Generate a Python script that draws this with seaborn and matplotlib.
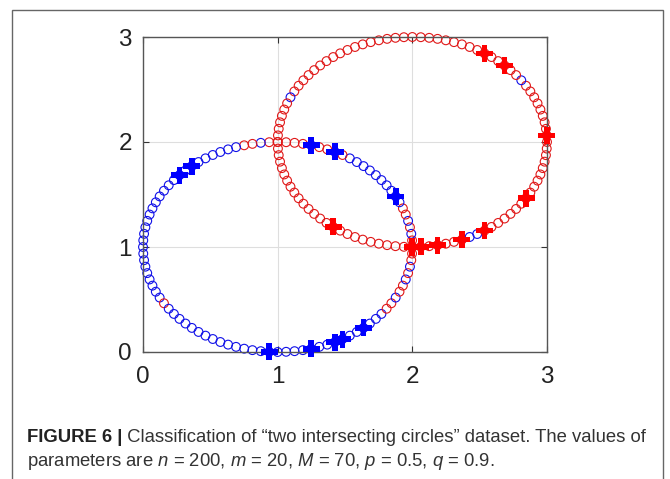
import numpy as np
import pandas as pd
import matplotlib
matplotlib.use("Agg")
import matplotlib.pyplot as plt
from matplotlib.patches import Rectangle
import seaborn as sns

# ---------------- data ----------------
# angular position (degrees) of the 100 sample points on each circle
point_angles_deg = [
    0.0, 3.6, 7.2, 10.8, 14.4, 18.0, 21.6, 25.2, 28.8, 32.4,
    36.0, 39.6, 43.2, 46.8, 50.4, 54.0, 57.6, 61.2, 64.8, 68.4,
    72.0, 75.6, 79.2, 82.8, 86.4, 90.0, 93.6, 97.2, 100.8, 104.4,
    108.0, 111.6, 115.2, 118.8, 122.4, 126.0, 129.6, 133.2, 136.8, 140.4,
    144.0, 147.6, 151.2, 154.8, 158.4, 162.0, 165.6, 169.2, 172.8, 176.4,
    180.0, 183.6, 187.2, 190.8, 194.4, 198.0, 201.6, 205.2, 208.8, 212.4,
    216.0, 219.6, 223.2, 226.8, 230.4, 234.0, 237.6, 241.2, 244.8, 248.4,
    252.0, 255.6, 259.2, 262.8, 266.4, 270.0, 273.6, 277.2, 280.8, 284.4,
    288.0, 291.6, 295.2, 298.8, 302.4, 306.0, 309.6, 313.2, 316.8, 320.4,
    324.0, 327.6, 331.2, 334.8, 338.4, 342.0, 345.6, 349.2, 352.8, 356.4,
]
circle_a_center = (1.0, 1.0)   # lower-left circle (true class "blue")
circle_b_center = (2.0, 2.0)   # upper-right circle (true class "red")
circle_radius = 1.0

# predicted class of each point (b = blue, r = red), in angle order
circle_a_pred = list(
    "rrbrbrrbbb" "bbbbbbbrbr" "rbrrrrrbrr" "bbbbbbbbbb" "bbbbbbbbbb"
    "bbbbbbbbbr" "bbbbbbbbbb" "bbbbbbbbbb" "bbbbbbbbbb" "rrbrrbrbrr"
)
circle_b_pred = list(
    "rrrrrrrrrr" "brrrrrrrrr" "rrrrrrrrrr" "rrrrrrrrrr" "rrrbrrrrrr"
    "rrrrrrrrrr" "rrrrrrrrrr" "rrrrrrrrrr" "rrbbrrrrrr" "rrrrrrrrrr"
)
# labelled points (indices into the sample points)
labelled_a_idx = [8, 18, 21, 36, 38, 74, 79, 82, 83, 86]
labelled_b_idx = [1, 13, 16, 65, 75, 76, 78, 81, 84, 91]

x_ticks = [0, 1, 2, 3]
y_ticks = [0, 1, 2, 3]
caption_bold = "FIGURE 6 |"
caption_line1 = " Classification of \u201ctwo intersecting circles\u201d dataset. The values of"
caption_line2 = r"parameters are $n$ = 200, $m$ = 20, $M$ = 70, $p$ = 0.5, $q$ = 0.9."

palette_open = {"b": "#1010e8", "r": "#e01818"}
palette_lab = {"b": "#0000ff", "r": "#ff0000"}

# ---------------- build tables ----------------
theta = np.deg2rad(np.array(point_angles_deg))
df_a = pd.DataFrame({
    "x": circle_a_center[0] + circle_radius * np.cos(theta),
    "y": circle_a_center[1] + circle_radius * np.sin(theta),
    "pred": circle_a_pred,
})
df_b = pd.DataFrame({
    "x": circle_b_center[0] + circle_radius * np.cos(theta),
    "y": circle_b_center[1] + circle_radius * np.sin(theta),
    "pred": circle_b_pred,
})
df_lab = pd.concat([
    df_a.iloc[labelled_a_idx].assign(cls="b"),
    df_b.iloc[labelled_b_idx].assign(cls="r"),
])

# ---------------- style ----------------
sns.set_theme(style="white")
plt.rcParams["font.family"] = ["Liberation Sans", "DejaVu Sans"]
plt.rcParams["mathtext.fontset"] = "custom"
plt.rcParams["mathtext.rm"] = "Liberation Sans"
plt.rcParams["mathtext.it"] = "Liberation Sans:italic"
plt.rcParams["mathtext.bf"] = "Liberation Sans:bold"

fig = plt.figure(figsize=(6.7, 4.79), dpi=100)
W, H = 670, 479
ax = fig.add_axes([143 / W, 1 - 352 / H, (547 - 143) / W, (352 - 37) / H])
ax.set_facecolor("white")

def open_circles(df):
    sns.scatterplot(data=df, x="x", y="y", hue="pred", palette=palette_open,
                    marker="o", s=40, linewidth=0.8, legend=False, ax=ax,
                    clip_on=False, zorder=2)
    coll = ax.collections[-1]
    fc = coll.get_facecolors()
    coll.set_edgecolors(fc)
    coll.set_facecolors("none")

open_circles(df_a)
open_circles(df_b)

sns.scatterplot(data=df_lab, x="x", y="y", hue="cls", palette=palette_lab,
                marker="P", s=150, linewidth=0, legend=False, ax=ax,
                clip_on=False, zorder=3)

ax.set_xlim(0, 3)
ax.set_ylim(0, 3)
ax.set_xticks(x_ticks)
ax.set_yticks(y_ticks)
ax.set_xticklabels([str(t) for t in x_ticks])
ax.set_yticklabels([str(t) for t in y_ticks])
ax.set_xlabel("")
ax.set_ylabel("")
ax.grid(True, color="#dedede", linewidth=0.8)
ax.set_axisbelow(True)
for s in ax.spines.values():
    s.set_visible(True)
    s.set_color("#555555")
    s.set_linewidth(1.0)
ax.tick_params(axis="both", direction="in", length=4, width=0.8,
               color="#333333", labelsize=17.5, labelcolor="#222222",
               top=True, right=True, bottom=True, left=True)
ax.tick_params(axis="x", pad=10)
ax.tick_params(axis="y", pad=8)

# outer frame
fig.add_artist(Rectangle((12 / W, -0.05), (663 - 12) / W, 1.05 - 10 / H,
                         transform=fig.transFigure, fill=False,
                         edgecolor="#666666", linewidth=1.0))

# caption
cap_fs = 13.3
t1 = fig.text(27 / W, 1 - 437 / H, caption_bold, fontsize=cap_fs,
              fontweight="bold", color="#222222", va="center", ha="left")
fig.canvas.draw()
bb = t1.get_window_extent(renderer=fig.canvas.get_renderer())
fig.text(bb.x1 / W, 1 - 437 / H, caption_line1, fontsize=cap_fs,
         color="#333333", va="center", ha="left")
fig.text(27 / W, 1 - 462 / H, caption_line2, fontsize=cap_fs,
         color="#333333", va="center", ha="left")

fig.savefig("out.png", dpi=100, facecolor="white")
